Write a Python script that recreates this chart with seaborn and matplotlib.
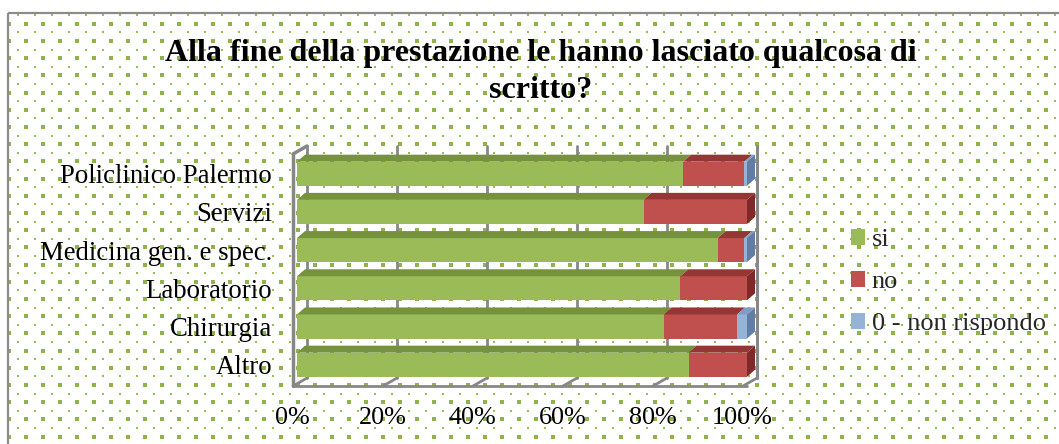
import numpy as np
import pandas as pd
import matplotlib
matplotlib.use("Agg")
import matplotlib.pyplot as plt
import seaborn as sns
from matplotlib.patches import Polygon, Rectangle

categories = ["Policlinico Palermo", "Servizi", "Medicina gen. e spec.",
              "Laboratorio", "Chirurgia", "Altro"]
si = [85.8, 77.0, 93.5, 85.2, 81.5, 87.0]
no = [13.6, 23.0, 5.9, 14.8, 16.3, 13.0]
non_rispondo = [0.6, 0.0, 0.6, 0.0, 2.2, 0.0]
series_names = ["si", "no", "0 - non rispondo"]
tick_values = [0, 20, 40, 60, 80, 100]
tick_labels = ["0%", "20%", "40%", "60%", "80%", "100%"]
title = "Alla fine della prestazione le hanno lasciato qualcosa di\nscritto?"

front = ["#9BBB59", "#C0504D", "#95B3D7"]
topc = ["#76923C", "#943634", "#7E9CC4"]
sidec = ["#5F7A2E", "#7F2A28", "#617DA3"]
gray = "#878787"

sns.set_theme(style="white")
plt.rcParams["font.family"] = ["Liberation Serif", "DejaVu Serif"]

W, H = 1059, 444
fig = plt.figure(figsize=(W / 100, H / 100), dpi=100)

# background dotted pattern + border
bg = fig.add_axes([0, 0, 1, 1], zorder=-10)
bg.set_xlim(0, W)
bg.set_ylim(H, 0)
bg.axis("off")
xa, ya, xb, yb = [], [], [], []
for k, yy in enumerate(np.arange(15.3, H, 8.6)):
    if k % 2:
        for xx in np.arange(9.3, W, 17.0):
            xa.append(xx); ya.append(yy)
    else:
        for xx in np.arange(18.3, W, 17.0):
            xb.append(xx); yb.append(yy)
bg.scatter(xa, ya, s=5.0, marker="s", color="#8DB34A", linewidths=0)
bg.scatter(xb, yb, s=3.2, marker="s", color="#9BBB59", linewidths=0)
bg.add_patch(Rectangle((8, 13), W + 20, H + 20, fill=False, edgecolor="#8C8C8C", lw=1.6))

# plot axes: front plane
L, R, T, B = 297, 747, 154, 386
ax = fig.add_axes([L / W, (H - B) / H, (R - L) / W, (B - T) / H])
ax.patch.set_alpha(0)

df = pd.DataFrame({"cat": categories, "si": si, "no": no, "nr": non_rispondo})
df["c1"] = df["si"]
df["c2"] = df["si"] + df["no"]
df["c3"] = df["c2"] + df["nr"]

for col, c in zip(["c3", "c2", "c1"], [front[2], front[1], front[0]]):
    sns.barplot(data=df, x=col, y="cat", orient="h", color=c, width=0.63,
                saturation=1, ax=ax, zorder=3, linewidth=0)

ax.set_xlim(0, 100)
y0c, y1c = 5.558, -0.516
ax.set_ylim(y0c, y1c)

px_x = 100 / (R - L)
px_y = (y0c - y1c) / (B - T)

# back wall & floor
wdx, wdy = 10 * px_x, 8 * px_y
for v in tick_values:
    ax.plot([v + wdx, v + wdx], [y1c - wdy, y0c - wdy], color=gray, lw=2, zorder=1, clip_on=False)
    ax.plot([v - 4 * px_x, v + wdx], [y0c, y0c - wdy], color=gray, lw=2, zorder=1, clip_on=False)
ax.plot([-4 * px_x, 100], [y0c, y0c], color=gray, lw=2, zorder=1, clip_on=False)
ax.plot([-4 * px_x, -4 * px_x], [y1c, y0c], color=gray, lw=2.5, zorder=1, clip_on=False)
ax.plot([-4 * px_x, wdx], [y1c, y1c - wdy], color=gray, lw=2.5, zorder=1, clip_on=False)

# 3D faces of bars
bdx, bdy = 8 * px_x, 7 * px_y
vals = np.array([si, no, non_rispondo]).T
for i in range(len(categories)):
    ytop = i - 0.63 / 2
    ybot = i + 0.63 / 2
    start = 0.0
    last = max(j for j in range(3) if vals[i, j] > 0)
    for j in range(3):
        w = vals[i, j]
        if w <= 0:
            continue
        x0, x1 = start, start + w
        ax.add_patch(Polygon([(x0, ytop), (x1, ytop), (x1 + bdx, ytop - bdy), (x0 + bdx, ytop - bdy)],
                             closed=True, facecolor=topc[j], edgecolor="none", zorder=4, clip_on=False))
        if j == last:
            ax.add_patch(Polygon([(x1, ytop), (x1 + bdx, ytop - bdy), (x1 + bdx, ybot - bdy), (x1, ybot)],
                                 closed=True, facecolor=sidec[j], edgecolor="none", zorder=4, clip_on=False))
        start = x1

ax.plot([100 + wdx, 100 + wdx], [y1c - wdy, y0c - wdy], color=gray, lw=2, zorder=2, clip_on=False)

ax.set_xticks([])
ax.set_xlabel("")
ax.set_ylabel("")
ax.tick_params(axis="y", length=0, pad=18, labelsize=19.3, labelcolor="black")
for s in ax.spines.values():
    s.set_visible(False)

for v, lab in zip(tick_values, tick_labels):
    ax.text(v - 4.5 * px_x, y0c + 32 * px_y, lab, ha="center", va="center", fontsize=18.8, color="black")

fig.text(541 / W, 1 - 72 / H, title, ha="center", va="center", fontsize=23,
         fontweight="bold", linespacing=1.33, color="black")

handles = [Rectangle((0, 0), 1, 1, facecolor=c, edgecolor="none") for c in front]
fig.legend(handles, series_names, loc="center left", bbox_to_anchor=(840 / W, 1 - 282 / H),
           frameon=False, fontsize=19, handlelength=0.55, handleheight=0.55,
           handletextpad=0.25, labelspacing=0.75, borderaxespad=0)

fig.savefig("out.png", dpi=100)
